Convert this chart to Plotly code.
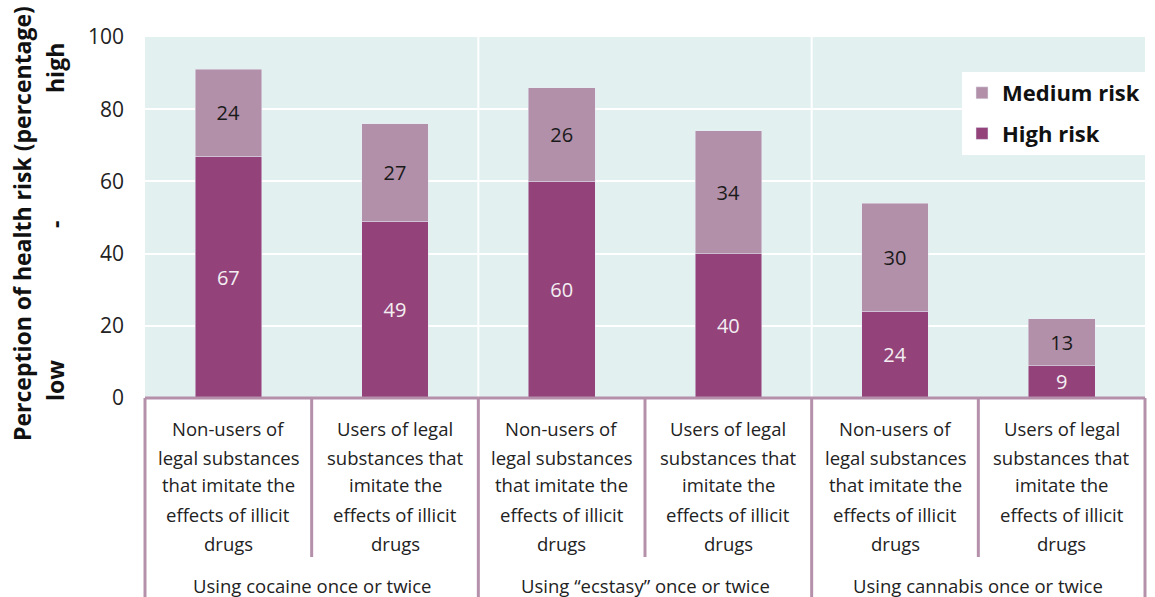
import plotly.graph_objects as go

cat_lines_nonusers = ["Non-users of", "legal substances", "that imitate the", "effects of illicit", "drugs"]
cat_lines_users = ["Users of legal", "substances that", "imitate the", "effects of illicit", "drugs"]
categories = [cat_lines_nonusers, cat_lines_users] * 3
groups = ["Using cocaine once or twice", "Using \u201cecstasy\u201d once or twice", "Using cannabis once or twice"]
high_risk = [67, 49, 60, 40, 24, 9]
medium_risk = [24, 27, 26, 34, 30, 13]
y_ticks = [0, 20, 40, 60, 80, 100]

FONT = "Open Sans"
HIGH_C = "#93437A"
MED_C = "#B290A9"
LINE_C = "#B590AB"

x = list(range(len(high_risk)))
fig = go.Figure()
fig.add_trace(go.Bar(x=x, y=high_risk, name="High risk", marker_color=HIGH_C, width=0.4,
                     legendgroup="high", legendrank=2,
                     text=high_risk, textposition="inside", insidetextanchor="middle",
                     textangle=0, constraintext="none",
                     textfont=dict(color="#F4EEF2", size=20, family=FONT)))
fig.add_trace(go.Bar(x=x, y=medium_risk, name="Medium risk", marker_color=MED_C, width=0.4,
                     legendgroup="medium", legendrank=1,
                     text=medium_risk, textposition="inside", insidetextanchor="middle",
                     textangle=0, constraintext="none",
                     textfont=dict(color="#1A1A1A", size=20, family=FONT)))

n = len(x)
plot_h = 361.0

def py(pix):
    return -(pix - 398) / plot_h

shapes = []
for b in [1.5, 3.5]:
    shapes.append(dict(type="line", xref="x", yref="y", x0=b, x1=b, y0=0, y1=100,
                       line=dict(color="white", width=2), layer="below"))
for i in range(n + 1):
    xp = i / n
    outer = (i % 2 == 0)
    shapes.append(dict(type="line", xref="paper", yref="paper", x0=xp, x1=xp, y0=0,
                       y1=py(600) if outer else py(557), line=dict(color=LINE_C, width=3)))
shapes.append(dict(type="line", xref="paper", yref="paper", x0=0, x1=1, y0=0, y1=0,
                   line=dict(color=LINE_C, width=3)))

annotations = []
line_centers = [428, 457, 485, 514, 543]
for i, lines in enumerate(categories):
    for ln, pix in zip(lines, line_centers):
        annotations.append(dict(x=i, xref="x", y=py(pix), yref="paper", text=ln, showarrow=False,
                                yanchor="middle", xanchor="center",
                                font=dict(size=18.5, family=FONT, color="#222222")))
for g, name in enumerate(groups):
    annotations.append(dict(x=2 * g + 0.5, xref="x", y=py(585), yref="paper", text=name, showarrow=False,
                            yanchor="middle", xanchor="center",
                            font=dict(size=18.5, family=FONT, color="#222222")))
annotations.append(dict(x=0, xref="paper", xanchor="center", xshift=22 - 145, y=py(224), yref="paper",
                        yanchor="middle", text="<b>Perception of health risk (percentage)</b>",
                        textangle=-90, showarrow=False,
                        font=dict(size=23, family=FONT, color="#111111")))
for txt, pix in [("low", 381), ("-", 225), ("high", 68)]:
    annotations.append(dict(x=0, xref="paper", xanchor="center", xshift=55 - 145, y=py(pix), yref="paper",
                            yanchor="middle", text="<b>" + txt + "</b>", textangle=-90, showarrow=False,
                            font=dict(size=23, family=FONT, color="#111111")))

fig.update_layout(
    barmode="stack",
    width=1155, height=597,
    margin=dict(l=145, r=10, t=37, b=199),
    paper_bgcolor="white",
    plot_bgcolor="#E2F1F0",
    font=dict(family=FONT, color="#222222"),
    xaxis=dict(range=[-0.5, n - 0.5], showticklabels=False, showgrid=False, zeroline=False, ticks=""),
    yaxis=dict(range=[0, 100], tickvals=y_ticks, showgrid=True, gridcolor="white", gridwidth=2,
               zeroline=False, tickfont=dict(size=21, family=FONT, color="#222222"), ticks="",
               ticklabelstandoff=20),
    legend=dict(x=1, xanchor="right", y=py(72), yanchor="top", bgcolor="white",
                traceorder="grouped", font=dict(size=22, family=FONT, color="#111111", weight="bold"),
                itemwidth=30, tracegroupgap=9),
    shapes=shapes,
    annotations=annotations,
    showlegend=True,
)

fig.write_html("out.html", config={"displayModeBar": False},
               post_script="document.body.style.margin='0';document.body.style.overflow='hidden';")
